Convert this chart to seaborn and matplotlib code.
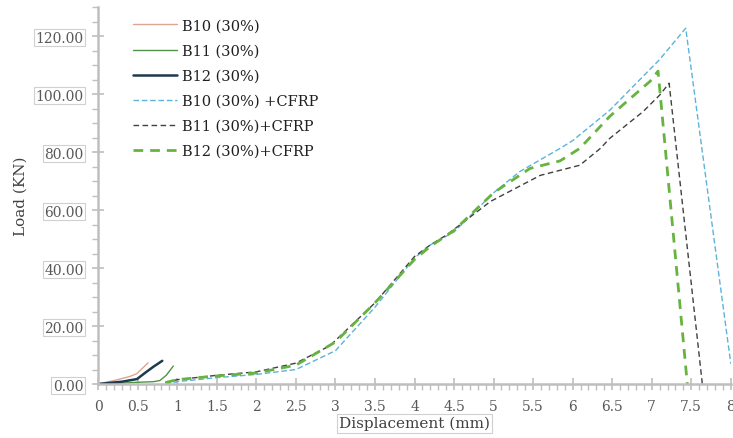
import numpy as np
import pandas as pd
import matplotlib
matplotlib.use('Agg')
import matplotlib.pyplot as plt
from matplotlib.ticker import MultipleLocator, FuncFormatter
import seaborn as sns

# load-displacement readings (mm, KN)
b10_x = [0, 0.2, 0.4, 0.49, 0.63]
b10_y = [0, 1.2, 2.6, 3.6, 7.3]
b11_x = [0, 0.3, 0.5, 0.7, 0.78, 0.86, 0.95]
b11_y = [0, 0.3, 0.6, 0.8, 1.2, 3.0, 6.2]
b12_x = [0, 0.3, 0.49, 0.6, 0.7, 0.81]
b12_y = [0, 0.8, 1.7, 4.0, 6.0, 8.0]

b10c_x = [0.85, 1.0, 1.5, 2.0, 2.5, 2.77, 3.0, 3.5, 4.0, 4.2, 4.5, 5.0, 5.33, 5.84, 6.0, 6.47, 7.1, 7.43, 8.0]
b10c_y = [0, 0.8, 2.2, 3.3, 5.0, 8.5, 11.5, 26.5, 43.5, 48, 52.5, 66, 73.3, 81.3, 84, 94.5, 112, 122.8, 7]
b11c_x = [0.85, 1.0, 1.5, 2.0, 2.5, 2.93, 3.5, 4.0, 4.2, 4.41, 4.96, 5.59, 6.09, 6.35, 6.47, 6.89, 7.1, 7.22, 7.64]
b11c_y = [0.5, 1.5, 3.0, 4.2, 7.2, 13.2, 28, 44, 48, 51.5, 63, 72, 75.5, 81.3, 84.8, 94, 99.7, 103.8, 0]
b12c_x = [0.85, 1.0, 1.5, 2.0, 2.5, 3.0, 3.5, 4.0, 4.2, 4.5, 5.0, 5.46, 5.84, 6.09, 6.47, 6.98, 7.08, 7.45]
b12c_y = [0.5, 1.5, 2.8, 3.8, 6.5, 14.5, 28, 43, 47.5, 53, 66, 74.4, 77, 81.3, 92.4, 104.5, 108, 0]

labels = ['B10 (30%)', 'B11 (30%)', 'B12 (30%)',
          'B10 (30%) +CFRP', 'B11 (30%)+CFRP', 'B12 (30%)+CFRP']
series = [(b10_x, b10_y), (b11_x, b11_y), (b12_x, b12_y),
          (b10c_x, b10c_y), (b11c_x, b11c_y), (b12c_x, b12c_y)]
colors = ['#dca58f', '#4f9448', '#1f3a4d', '#5cb3d9', '#404040', '#67b340']
widths = [1.0, 1.0, 1.8, 1.0, 1.0, 2.0]
dashes = [None, None, None, (4, 2), (4, 2.5), (3.5, 2.5)]

sns.set_style('white')
plt.rcParams['font.family'] = ['DejaVu Serif']

fig = plt.figure(figsize=(7.33, 4.39), dpi=100)
ax = fig.add_axes([0.134, 0.123, 0.863, 0.858])

for (xs, ys), lab, c, w, d in zip(series, labels, colors, widths, dashes):
    df = pd.DataFrame({'x': xs, 'y': ys})
    sns.lineplot(data=df, x='x', y='y', ax=ax, color=c, linewidth=w,
                 label=lab, sort=False, estimator=None)
    line = ax.get_lines()[-1]
    if d is not None:
        line.set_dashes(d)

ax.set_xlim(0, 8)
ax.set_ylim(0, 130)
ax.xaxis.set_major_locator(MultipleLocator(0.5))
ax.xaxis.set_minor_locator(MultipleLocator(0.1))
ax.set_yticks([0, 20, 40, 60, 80, 100, 120])
ax.yaxis.set_minor_locator(MultipleLocator(5))
ax.xaxis.set_major_formatter(FuncFormatter(lambda v, p: '%g' % v))
ax.yaxis.set_major_formatter(FuncFormatter(lambda v, p: '%.2f' % v))

axis_col = '#bfbfbf'
for s in ['top', 'right']:
    ax.spines[s].set_visible(False)
for s in ['left', 'bottom']:
    ax.spines[s].set_color(axis_col)
    ax.spines[s].set_linewidth(1.8)

ax.tick_params(which='both', bottom=True, left=True)
ax.tick_params(which='major', direction='inout', length=9, width=1.2,
               color=axis_col, labelsize=10, labelcolor='#595959', pad=6)
ax.tick_params(which='minor', direction='out', length=4, width=1.0,
               color=axis_col)

box = dict(boxstyle='square,pad=0.12', fc='white', ec='#d0d0d0', lw=0.8)
for t in ax.get_yticklabels():
    t.set_bbox(box)

ax.set_xlabel('Displacement (mm)', fontsize=11, color='#404040',
              bbox=dict(boxstyle='square,pad=0.15', fc='white', ec='#d0d0d0', lw=0.8))
ax.set_ylabel('Load (KN)', fontsize=11, color='#404040', labelpad=6)
ax.xaxis.set_label_coords(0.5, -0.085)

leg = ax.legend(loc='upper left', bbox_to_anchor=(0.035, 1.005), frameon=False,
                fontsize=10.5, handlelength=3.0, handletextpad=0.3,
                labelspacing=0.76)
for t in leg.get_texts():
    t.set_color('#202020')

fig.savefig('out.png', dpi=100)
